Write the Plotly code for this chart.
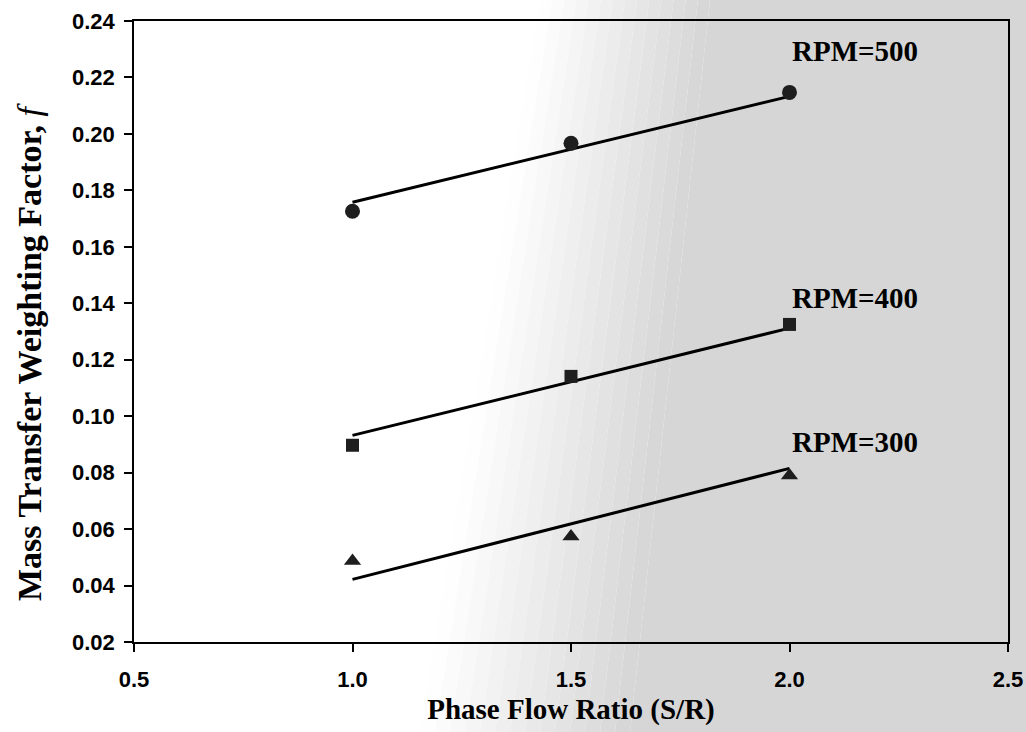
import plotly.graph_objects as go

# ---- data ----
flow_ratio = [1.0, 1.5, 2.0]
rpm500 = [0.1726, 0.1967, 0.2147]
rpm400 = [0.0897, 0.1141, 0.1325]
rpm300 = [0.0487, 0.0574, 0.0790]

fit_x = [1.0, 2.0]
fit500 = [0.1758, 0.2133]
fit400 = [0.0932, 0.1312]
fit300 = [0.0422, 0.0815]

labels = ["RPM=500", "RPM=400", "RPM=300"]
label_x = [2.15, 2.15, 2.15]
label_y = [0.2293, 0.1418, 0.0908]

x_ticks = [0.5, 1.0, 1.5, 2.0, 2.5]
y_ticks = [0.02, 0.04, 0.06, 0.08, 0.10, 0.12, 0.14, 0.16, 0.18, 0.20, 0.22, 0.24]

W, H = 1026, 732
ML, MR, MT, MB = 134, 18, 21, 90
PW, PH = W - ML - MR, H - MT - MB

fig = go.Figure()

line_style = dict(color="black", width=3)
mk_color = "#1e1e1e"
for ys in (fit500, fit400, fit300):
    fig.add_trace(go.Scatter(x=fit_x, y=ys, mode="lines", line=line_style,
                             showlegend=False, hoverinfo="skip"))

for ys, sym, sz in ((rpm500, "circle", 15), (rpm400, "square", 13), (rpm300, "triangle-up", 15)):
    fig.add_trace(go.Scatter(x=flow_ratio, y=ys, mode="markers",
                             marker=dict(symbol=sym, size=sz, color=mk_color,
                                         line=dict(width=0)),
                             showlegend=False))

for t, lx, ly in zip(labels, label_x, label_y):
    fig.add_annotation(x=lx, y=ly, text=t, showarrow=False, xanchor="center", yanchor="middle",
                       font=dict(family="Liberation Serif, Times New Roman", size=29,
                                 color="black", weight="bold"))

# ---- scanned grey background (diagonal gradient) ----
def px2paper(px, py):
    return (px - ML) / PW, (MT + PH - py) / PH

shapes = []
N = 14
top0, top1 = 540, 710
bot0, bot1 = 420, 630
full = 214
for k in range(N + 1):
    f0 = k / N
    f1 = (k + 1) / N
    if k == N:
        pts = [(top1, 0), (W, 0), (W, H), (bot1, H)]
        lvl = full
    else:
        pts = [(top0 + f0 * (top1 - top0), 0), (top0 + f1 * (top1 - top0), 0),
               (bot0 + f1 * (bot1 - bot0), H), (bot0 + f0 * (bot1 - bot0), H)]
        lvl = round(255 - (255 - full) * (k + 0.5) / N)
    path = "M " + " L ".join("%.5f,%.5f" % px2paper(x, y) for x, y in pts) + " Z"
    shapes.append(dict(type="path", path=path, xref="paper", yref="paper",
                       fillcolor="rgb(%d,%d,%d)" % (lvl, lvl, lvl),
                       line=dict(width=0), layer="below"))

tick_font = dict(family="Liberation Sans, Arial", size=22, color="black", weight="bold")
title_font = dict(family="Liberation Serif, Times New Roman", size=29, color="black", weight="bold")

# y-axis title as a rotated annotation (placed like the original)
fig.add_annotation(x=(30 - ML) / PW, y=(MT + PH - 352) / PH, xref="paper", yref="paper",
                   text="Mass Transfer Weighting Factor, <span style='font-weight:normal'><i>f</i></span>",
                   textangle=-90, showarrow=False, xanchor="center", yanchor="middle",
                   font=dict(family="Liberation Serif, Times New Roman", size=34,
                             color="black", weight="bold"))

fig.update_layout(
    width=W, height=H, autosize=False,
    margin=dict(l=ML, r=MR, t=MT, b=MB, pad=0),
    paper_bgcolor="white",
    plot_bgcolor="rgba(0,0,0,0)",
    shapes=shapes,
    xaxis=dict(range=[0.5, 2.5], tickvals=x_ticks, tickformat=".1f",
               showgrid=False, zeroline=False, showline=True, linecolor="black", linewidth=1.5,
               mirror=True, ticks="outside", ticklen=8, tickwidth=1.5, tickcolor="black",
               tickfont=tick_font, ticklabelstandoff=9, automargin=False,
               title=dict(text="Phase Flow Ratio (S/R)", font=title_font, standoff=8)),
    yaxis=dict(range=[0.02, 0.24], tickvals=y_ticks, tickformat=".2f",
               showgrid=False, zeroline=False, showline=True, linecolor="black", linewidth=1.5,
               mirror=True, ticks="outside", ticklen=8, tickwidth=1.5, tickcolor="black",
               tickfont=tick_font, ticklabelstandoff=5, automargin=False),
)

fig.write_html("out.html",
               config={"responsive": False, "displayModeBar": False},
               post_script="document.body.style.margin='0';document.body.style.overflow='hidden';")
